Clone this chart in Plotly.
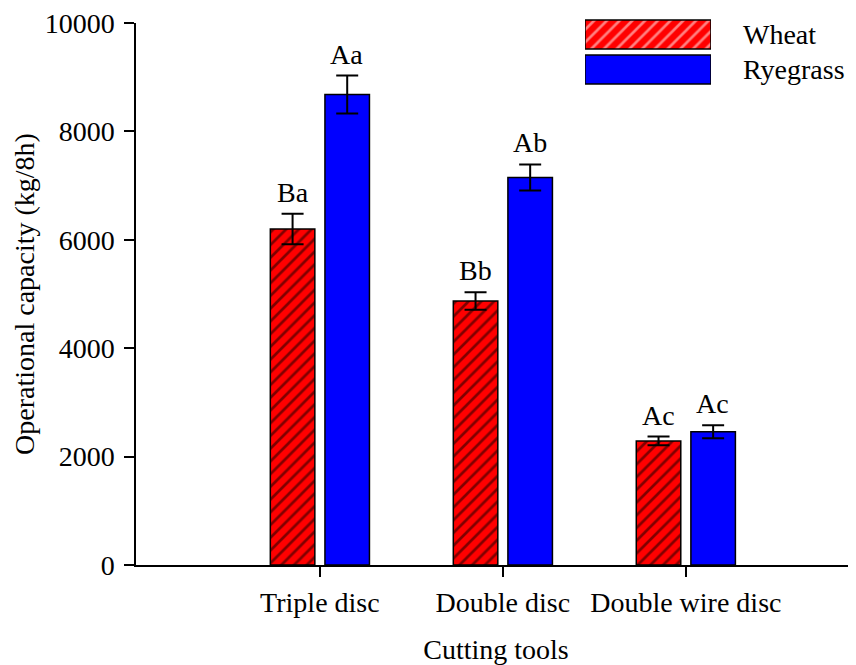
import plotly.graph_objects as go

categories = ["Triple disc", "Double disc", "Double wire disc"]
wheat = [6200, 4870, 2290]
wheat_err = [280, 160, 80]
ryegrass = [8680, 7150, 2460]
ryegrass_err = [350, 240, 120]
wheat_letters = ["Ba", "Bb", "Ac"]
ryegrass_letters = ["Aa", "Ab", "Ac"]
y_ticks = [0, 2000, 4000, 6000, 8000, 10000]
series_names = ["Wheat", "Ryegrass"]

FONT = "Liberation Serif, Times New Roman, serif"
FS = 28

fig = go.Figure()

fig.add_trace(go.Bar(
    x=categories, y=wheat, name="Wheat",
    marker=dict(color="#FF0000", line=dict(color="black", width=1.5),
                pattern=dict(shape="/", fgcolor="black", bgcolor="#FF0000",
                             size=9, solidity=0.3)),
    error_y=dict(type="data", array=wheat_err, color="black", thickness=2, width=11),
    showlegend=False,
))
fig.add_trace(go.Bar(
    x=categories, y=ryegrass, name="Ryegrass",
    marker=dict(color="#0000FF", line=dict(color="black", width=1.5)),
    error_y=dict(type="data", array=ryegrass_err, color="black", thickness=2, width=11),
    showlegend=False,
))

# legend swatches drawn as bars on a small hidden axis pair
fig.add_trace(go.Bar(
    x=[1, 1], y=[1, 0], base=0, orientation="h", width=0.829,
    marker=dict(color=["#FF0000", "#0000FF"], line=dict(color="black", width=1.5),
                pattern=dict(shape=["/", ""], fgcolor="black", bgcolor=["#FF0000", "#0000FF"],
                             size=9, solidity=0.3)),
    xaxis="x2", yaxis="y2", showlegend=False, hoverinfo="skip",
))

annotations = []
for cat, v, e, t in zip(categories, wheat, wheat_err, wheat_letters):
    annotations.append(dict(x=cat, y=v + e, xref="x", yref="y", text=t, showarrow=False,
                            yanchor="bottom", xshift=-27, yshift=4,
                            font=dict(family=FONT, size=FS, color="black")))
for cat, v, e, t in zip(categories, ryegrass, ryegrass_err, ryegrass_letters):
    annotations.append(dict(x=cat, y=v + e, xref="x", yref="y", text=t, showarrow=False,
                            yanchor="bottom", xshift=27, yshift=4,
                            font=dict(family=FONT, size=FS, color="black")))
for name, yy in zip(series_names, [1, 0]):
    annotations.append(dict(x=1, y=yy, xref="x2", yref="y2", text=name, showarrow=False,
                            xanchor="left", yanchor="middle", xshift=30,
                            font=dict(family=FONT, size=FS, color="black")))

# the page body has an 8px margin, so the figure is sized/offset to compensate
fig.update_layout(
    width=848, height=657,
    margin=dict(l=128, r=0, t=7, b=100),
    paper_bgcolor="white", plot_bgcolor="white",
    barmode="group", bargap=0.403, bargroupgap=0.185,
    font=dict(family=FONT, size=FS, color="black"),
    annotations=annotations,
    xaxis=dict(
        type="category", range=[-1.005, 2.93], automargin=False,
        showline=True, linecolor="black", linewidth=1.5,
        ticks="outside", ticklen=10, tickwidth=1.5, tickcolor="black",
        showgrid=False, zeroline=False, ticklabelstandoff=2,
        ticklabeloverflow="allow",
        tickfont=dict(family=FONT, size=FS, color="black"),
        title=dict(text="Cutting tools", standoff=26,
                   font=dict(family=FONT, size=FS, color="black")),
    ),
    yaxis=dict(
        domain=[0, 0.98545], range=[0, 10000], tickvals=y_ticks, tickformat="d",
        automargin=False,
        showline=True, linecolor="black", linewidth=1.5,
        ticks="outside", ticklen=10, tickwidth=1.5, tickcolor="black",
        showgrid=False, zeroline=False, ticklabelstandoff=4,
        ticklabeloverflow="allow",
        tickfont=dict(family=FONT, size=FS, color="black"),
        title=dict(text="Operational capacity (kg/8h)", standoff=2,
                   font=dict(family=FONT, size=FS, color="black")),
    ),
    xaxis2=dict(domain=[0.6236, 0.7986], range=[0, 1], anchor="y2", visible=False,
                fixedrange=True),
    yaxis2=dict(domain=[0.86909, 0.99636], range=[-0.5, 1.5], anchor="x2", visible=False,
                fixedrange=True),
)

fig.write_html("out.html")
